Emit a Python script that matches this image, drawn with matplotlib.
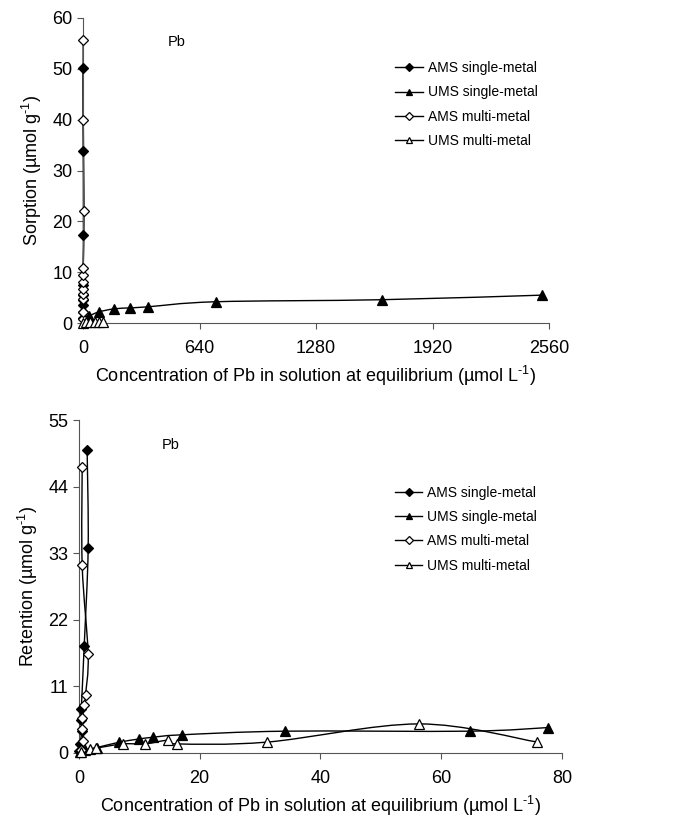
import numpy as np
import matplotlib
matplotlib.use("Agg")
import matplotlib.pyplot as plt
from matplotlib.path import Path
from matplotlib.patches import PathPatch
from matplotlib.lines import Line2D

plt.rcParams['font.family'] = ['Liberation Sans', 'DejaVu Sans']
plt.rcParams['mathtext.fontset'] = 'custom'
plt.rcParams['mathtext.rm'] = 'Liberation Sans'
plt.rcParams['mathtext.it'] = 'Liberation Sans:italic'

# ---------------- Data: top panel (sorption) ----------------
top_ams_single_x = [0.1, 0.2, 0.3, 0.5, 0.7, 1.0, 3.0, 2.0, 1.5]
top_ams_single_y = [1.0, 2.2, 3.5, 4.5, 5.5, 7.4, 17.3, 33.8, 50.2]
top_ums_single_x = [10, 35, 88, 170, 260, 355, 729, 1639, 2519]
top_ums_single_y = [0.6, 1.4, 2.2, 2.8, 3.0, 3.2, 4.2, 4.6, 5.5]
top_ams_multi_x = [0.1, 0.2, 0.4, 0.6, 0.8, 1.0, 1.3, 1.6, 6.0, 2.0, 1.5]
top_ams_multi_y = [0.9, 2.2, 4.7, 5.8, 6.8, 8.1, 9.4, 10.8, 21.95, 39.9, 55.6]
top_ums_multi_x = [3, 18, 38, 67, 86, 108]
top_ums_multi_y = [0.1, 0.2, 0.3, 0.3, 0.3, 0.3]

# ---------------- Data: bottom panel (retention) ----------------
bot_ams_single_x = [0.05, 0.15, 0.5, 0.33, 0.4, 0.88, 1.54, 1.37]
bot_ams_single_y = [0.3, 1.5, 3.6, 5.5, 7.2, 17.6, 33.8, 50.0]
bot_ums_single_x = [0.2, 1.0, 3.0, 6.6, 9.9, 12.3, 17.0, 34.2, 64.7, 77.7]
bot_ums_single_y = [0.2, 0.5, 0.9, 1.76, 2.3, 2.6, 3.0, 3.6, 3.6, 4.2]
bot_ams_multi_x = [0.3, 0.7, 0.6, 0.6, 0.88, 1.1, 1.54, 0.55, 0.55]
bot_ams_multi_y = [0.5, 1.9, 4.0, 5.8, 7.9, 9.6, 16.3, 31.0, 47.2]
bot_ums_multi_x = [0.3, 1.8, 2.9, 7.3, 11.0, 14.7, 16.2, 31.2, 56.3, 75.9]
bot_ums_multi_y = [0.2, 0.6, 0.8, 1.5, 1.5, 2.1, 1.5, 1.8, 4.8, 1.8]

series_labels = ["AMS single-metal", "UMS single-metal", "AMS multi-metal", "UMS multi-metal"]
series_markers = ["D", "^", "D", "^"]
series_fill = ["black", "black", "white", "white"]
series_msize = [5, 6.5, 5, 6.5]

top_xticks = [0, 640, 1280, 1920, 2560]
top_yticks = [0, 10, 20, 30, 40, 50, 60]
bot_xticks = [0, 20, 40, 60, 80]
bot_yticks = [0, 11, 22, 33, 44, 55]

XLABEL = r'Concentration of Pb in solution at equilibrium (µmol L$^{\text{-1}}$)'


def smooth_path(x, y):
    """Excel-like smoothed line: cubic Bezier through points (Catmull-Rom)."""
    pts = np.column_stack([x, y]).astype(float)
    n = len(pts)
    verts = [pts[0]]
    codes = [Path.MOVETO]
    for i in range(n - 1):
        p0 = pts[i - 1] if i > 0 else pts[i]
        p1 = pts[i]
        p2 = pts[i + 1]
        p3 = pts[i + 2] if i + 2 < n else pts[i + 1]
        c1 = p1 + (p2 - p0) / 6.0
        c2 = p2 - (p3 - p1) / 6.0
        verts += [c1, c2, p2]
        codes += [Path.CURVE4] * 3
    return Path(verts, codes)


def draw_series(ax, x, y, marker, fill, ms):
    ax.add_patch(PathPatch(smooth_path(x, y), facecolor='none', edgecolor='black',
                           lw=1.0, zorder=2, clip_on=False))
    ax.plot(x, y, linestyle='none', marker=marker, mfc=fill, mec='black',
            mew=0.9, ms=ms, zorder=3, clip_on=False)


def style_axes(ax, xticks, yticks, ylabel, pb_xy, leg_xy):
    ax.spines['top'].set_visible(False)
    ax.spines['right'].set_visible(False)
    ax.spines['left'].set_color('#555555')
    ax.spines['bottom'].set_color('#555555')
    ax.set_xticks(xticks)
    ax.set_yticks(yticks)
    ax.set_xlim(xticks[0], xticks[-1])
    ax.set_ylim(yticks[0], yticks[-1])
    ax.tick_params(direction='out', length=4, width=0.8, labelsize=13, color='#555555')
    ax.tick_params(axis='x', pad=8)
    ax.set_xlabel(XLABEL, fontsize=13, labelpad=5)
    ax.set_ylabel(ylabel, fontsize=13, labelpad=6)
    ax.text(pb_xy[0], pb_xy[1], 'Pb', transform=ax.transAxes, fontsize=10.5,
            va='center')
    handles = [Line2D([], [], color='black', lw=1.0, marker=m, mfc=f, mec='black',
                      ms=s * 0.75, mew=0.9)
               for m, f, s in zip(series_markers, series_fill, series_msize)]
    ax.legend(handles, series_labels, loc='upper left', bbox_to_anchor=leg_xy,
              frameon=False, fontsize=10, handlelength=2.0, handletextpad=0.35,
              labelspacing=0.75, borderaxespad=0)


fig = plt.figure(figsize=(6.74, 8.18), dpi=100)

ax1 = fig.add_axes([0.123, 0.605, 0.692, 0.373])
top_data = [(top_ams_single_x, top_ams_single_y), (top_ums_single_x, top_ums_single_y),
            (top_ams_multi_x, top_ams_multi_y), (top_ums_multi_x, top_ums_multi_y)]
for (x, y), m, f, s in zip(top_data, series_markers, series_fill, series_msize):
    draw_series(ax1, x, y, m, f, s)
style_axes(ax1, top_xticks, top_yticks, r'Sorption (µmol g$^{\text{-1}}$)',
           (0.182, 0.92), (0.657, 0.877))

ax2 = fig.add_axes([0.117, 0.0795, 0.717, 0.407])
bot_data = [(bot_ams_single_x, bot_ams_single_y), (bot_ums_single_x, bot_ums_single_y),
            (bot_ams_multi_x, bot_ams_multi_y), (bot_ums_multi_x, bot_ums_multi_y)]
for (x, y), m, f, s in zip(bot_data, series_markers, series_fill, series_msize):
    draw_series(ax2, x, y, m, f, s)
style_axes(ax2, bot_xticks, bot_yticks, r'Retention (µmol g$^{\text{-1}}$)',
           (0.172, 0.925), (0.642, 0.82))

fig.savefig('out.png', dpi=100, facecolor='white')
